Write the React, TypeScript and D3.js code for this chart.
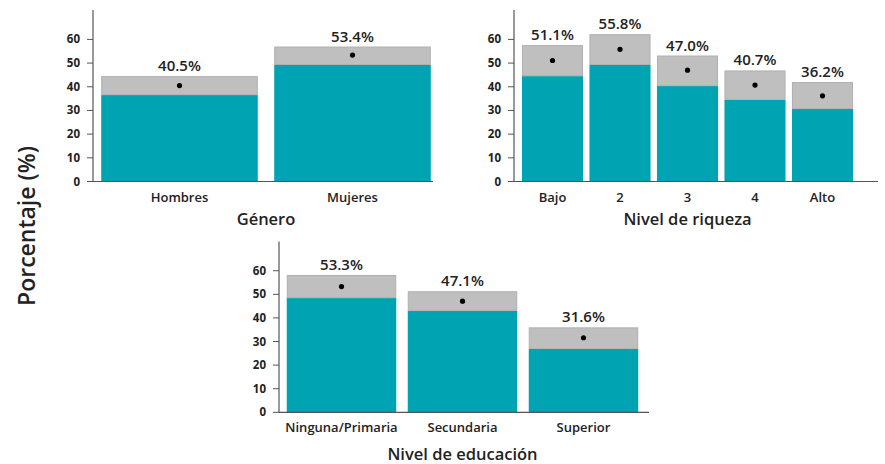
import React from 'react';
import * as d3 from 'd3';

// Género
const generoCats = ['Hombres', 'Mujeres'];
const generoEst = [40.5, 53.4];
const generoLow = [36.5, 49.2];
const generoHigh = [44.5, 57.0];

// Nivel de riqueza
const riquezaCats = ['Bajo', '2', '3', '4', 'Alto'];
const riquezaEst = [51.1, 55.8, 47.0, 40.7, 36.2];
const riquezaLow = [44.5, 49.2, 40.3, 34.5, 30.6];
const riquezaHigh = [57.6, 62.2, 53.2, 46.9, 42.0];

// Nivel de educación
const educCats = ['Ninguna/Primaria', 'Secundaria', 'Superior'];
const educEst = [53.3, 47.1, 31.6];
const educLow = [48.4, 43.0, 26.9];
const educHigh = [58.2, 51.3, 36.0];

const yTicks = [0, 10, 20, 30, 40, 50, 60];

const TEAL = '#00a3b2';
const GREY = '#bfbfbf';
const FONT = '"Open Sans", "Noto Sans", sans-serif';

interface PanelProps {
  title: string;
  cats: string[];
  est: number[];
  low: number[];
  high: number[];
  axisX: number;
  axisEnd: number;
  bandRange: [number, number];
  y0: number;
  yTop: number;
  titleDy: number;
}

const Panel: React.FC<PanelProps> = ({ title, cats, est, low, high, axisX, axisEnd, bandRange, y0, yTop, titleDy }) => {
  const x = d3.scaleBand<string>().domain(cats).range(bandRange).paddingInner(0.095).paddingOuter(0.0475);
  const y = d3.scaleLinear().domain([0, 72]).range([y0, yTop]);
  const bw = x.bandwidth();

  return (
    <g>
      {cats.map((c, i) => {
        const bx = x(c) as number;
        return (
          <g key={c}>
            <rect x={bx} y={y(low[i])} width={bw} height={y(0) - y(low[i])} fill={TEAL} />
            <rect x={bx + 0.5} y={y(high[i]) + 0.5} width={bw - 1} height={y(low[i]) - y(high[i]) - 1}
              fill={GREY} stroke="#b0b0b0" strokeWidth={1} />
            <circle cx={bx + bw / 2} cy={y(est[i])} r={2.6} fill="#000" />
            <text x={bx + bw / 2} y={y(high[i]) - 5} textAnchor="middle" fontSize={15}
              fontWeight={600} fill="#222">{est[i].toFixed(1)}%</text>
            <text x={bx + bw / 2} y={y0 + 20} textAnchor="middle" fontSize={13}
              fontWeight={600} fill="#222">{c}</text>
          </g>
        );
      })}
      {/* axes */}
      <line x1={axisX} x2={axisX} y1={yTop - 1} y2={y0} stroke="#555" strokeWidth={1.2} />
      <line x1={axisX} x2={axisEnd} y1={y0} y2={y0} stroke="#555" strokeWidth={1.2} />
      {yTicks.map(t => (
        <g key={t}>
          <line x1={axisX - 6} x2={axisX} y1={y(t)} y2={y(t)} stroke="#555" strokeWidth={1} />
          <text x={axisX - 13} y={y(t) + 4} textAnchor="end" fontSize={11.5} fontWeight={700} fill="#222">{t}</text>
        </g>
      ))}
      <text x={(bandRange[0] + bandRange[1]) / 2} y={y0 + titleDy} textAnchor="middle" fontSize={16.5}
        fontWeight={600} fill="#222">{title}</text>
    </g>
  );
};

export default function App() {
  return (
    <svg width={885} height={464} style={{ display: 'block', position: 'absolute', left: 0, top: 0, fontFamily: FONT }}>
      <rect width={885} height={464} fill="#fff" />
      <Panel title="Género" cats={generoCats} est={generoEst} low={generoLow} high={generoHigh}
        axisX={93} axisEnd={433} bandRange={[93, 439]} y0={181.5} yTop={11} titleDy={43} />
      <Panel title="Nivel de riqueza" cats={riquezaCats} est={riquezaEst} low={riquezaLow} high={riquezaHigh}
        axisX={514} axisEnd={878} bandRange={[518.75, 856.25]} y0={181.5} yTop={11} titleDy={43} />
      <Panel title="Nivel de educación" cats={educCats} est={educEst} low={educLow} high={educHigh}
        axisX={279} axisEnd={649} bandRange={[281, 644]} y0={412.3} yTop={242.4} titleDy={47.5} />
      <text transform="translate(35,226) rotate(-90)" textAnchor="middle" fontSize={23}
        fontWeight={600} fill="#222">Porcentaje (%)</text>
    </svg>
  );
}
